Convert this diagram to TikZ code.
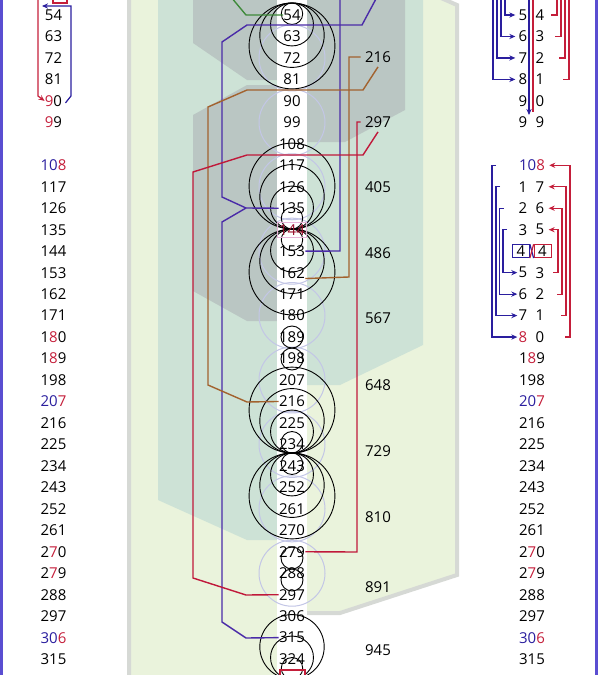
\documentclass[tikz,border=0pt]{standalone}
\usepackage{fontspec}
\setmainfont{Open Sans}
\usepackage{tikz}
\usetikzlibrary{arrows.meta,calc}
\definecolor{bandgreen}{HTML}{EAF3DC}
\definecolor{bandedge}{HTML}{D6D9D5}
\definecolor{tealbg}{HTML}{CDE2D6}
\definecolor{slatebg}{HTML}{BAC6C3}
\definecolor{framepurple}{HTML}{5A4ED1}
\definecolor{linkpurple}{HTML}{4A2BA8}
\definecolor{linkred}{HTML}{C0183A}
\definecolor{linkbrown}{HTML}{A2622E}
\definecolor{linkgreen}{HTML}{3E8A3A}
\definecolor{digred}{HTML}{C41E3A}
\definecolor{digblue}{HTML}{2A1E9E}
\definecolor{faintring}{HTML}{C3C6E6}
\definecolor{pinkline}{HTML}{E8B4D8}

\newcommand{\digR}[1]{\textcolor{digred}{#1}}
\newcommand{\digB}[1]{\textcolor{digblue}{#1}}

\tikzset{
  num/.style={font=\fontsize{7.5}{9}\selectfont, inner sep=0pt},
  ring/.style={draw=black, line width=0.45pt},
  faint/.style={draw=faintring, line width=0.5pt},
  conn/.style={line width=0.7pt},
  brack/.style={line width=0.6pt},
  tipped/.style={-{Stealth[length=3pt,width=2.6pt]}},
  digbox/.style={num, minimum width=8.5pt, minimum height=6.5pt},
}

\begin{document}
\begin{tikzpicture}[x=0.5pt, y=-0.5pt]
  \useasboundingbox (0,0) rectangle (598,675);
  \clip (0,0) rectangle (598,675);

  % background bands
  \filldraw[fill=bandgreen, draw=bandedge, line width=2pt]
    (129,-20) -- (400,-20) -- (457,5) -- (457,575) -- (340,613) -- (292,613)
    -- (292,700) -- (129,700) -- cycle;
  \fill[tealbg] (158,-20) -- (423,-20) -- (423,345) -- (340,385) -- (292,385)
    -- (292,540) -- (247,540) -- (158,500) -- cycle;
  \fill[slatebg] (193,-20) -- (292,-20) -- (292,80) -- (247,80) -- (193,43) -- cycle;
  \fill[slatebg] (193,115) -- (247,85) -- (292,85) -- (292,-20) -- (405,-20)
    -- (405,110) -- (345,142) -- (292,142) -- (292,321) -- (247,321) -- (193,291) -- cycle;
  \fill[white] (277,-20) rectangle (307,700);

  % frame
  \draw[framepurple, line width=1.5pt] (1.5,0) -- (1.5,675);
  \draw[framepurple, line width=1.5pt] (596.5,0) -- (596.5,675);

  % rings
  \foreach \k in {2,5,...,26}
    \draw[faint] (292,{15+21.47*\k}) circle (33);
  \foreach \ty/\sg/\m in {3/1/4, 229/-1/4, 229/1/4, 453/-1/4, 453/1/4, 679/-1/3} {
    \foreach \n in {1,...,\m}
      \draw[ring] (292,{\ty+\sg*\n*10.735}) circle ({\n*10.735});
  }
  \foreach \yy in {337,359,558,580}
    \draw[ring] (292,\yy) circle (11);
  \draw[brack, digred] (280,670) rectangle (305,692);

  % centre column
  \foreach \k in {0,...,30} {
    \pgfmathtruncatemacro\v{54+9*\k}
    \ifnum\k=10
      \node[num, text=linkred!80!black, draw=pinkline, inner sep=1pt] (c\k) at (292,{15+21.47*\k}) {\v};
    \else
      \node[num] (c\k) at (292,{15+21.47*\k}) {\v};
    \fi
  }

  % left column
  \foreach \k/\t in {0/54, 1/63, 2/72, 3/81, 4/{\digR{9}0}, 5/{\digR{9}9},
      7/{\digB{10}\digR{8}}, 8/117, 9/126, 10/135, 11/144, 12/153, 13/162, 14/171,
      15/{1\digR{8}0}, 16/{1\digR{8}9}, 17/198, 18/{\digB{20}\digR{7}}, 19/216,
      20/225, 21/234, 22/243, 23/252, 24/261, 25/{2\digR{7}0}, 26/{2\digR{7}9},
      27/288, 28/297, 29/{\digB{30}\digR{6}}, 30/315}
    \node[num] (l\k) at (53.5,{15+21.47*\k}) {\t};

  % right column
  \foreach \k/\p/\q in {0/5/4, 1/6/3, 2/7/2, 3/8/1, 4/9/0, 5/9/9,
      8/1/7, 9/2/6, 10/3/5, 12/5/3, 13/6/2, 14/7/1, 15/{\digR{8}}/0} {
    \node[num] (ra\k) at (523,{15+21.47*\k}) {\p};
    \node[num] (rb\k) at (540,{15+21.47*\k}) {\q};
  }
  \node[digbox, draw=digblue] (ra11) at (521,{15+21.47*11}) {4};
  \node[digbox, draw=digred] (rb11) at (542.5,{15+21.47*11}) {4};
  \foreach \k/\t in {7/{\digB{10}\digR{8}}, 16/{1\digR{8}9}, 17/198,
      18/{\digB{20}\digR{7}}, 19/216, 20/225, 21/234, 22/243, 23/252, 24/261,
      25/{2\digR{7}0}, 26/{2\digR{7}9}, 27/288, 28/297, 29/{\digB{30}\digR{6}}, 30/315}
    \node[num] (rr\k) at (532,{15+21.47*\k}) {\t};

  % sums beside the column
  \foreach \v/\yy in {216/57, 297/122, 405/187, 486/253, 567/318, 648/385,
      729/451, 810/517, 891/587, 945/650}
    \node[num] (r\v) at (378,\yy) {\v};

  % links to the centre column
  \draw[conn, linkgreen] (231,-3) -- (246,15) -- (c0.west);
  \draw[conn, linkpurple] (377,-3) -- (362,25) -- (247,25) -- (222,42) -- (222,197)
    -- (246,208) coordinate (fork) -- (c9.west);
  \draw[conn, linkpurple] (fork) -- (222,222) -- (222,622) -- (246,638) -- (c29.west);
  \draw[conn, linkpurple] (340,-3) -- (340,251) -- (c11.east);
  \draw[conn, linkbrown] ([xshift=-2pt]r216.west) -- (349,57) -- (349,277) -- (c12.south east);
  \draw[conn, linkbrown] ([yshift=-2pt]r216.south) -- (363,90) -- (247,90) -- (208,107)
    -- (208,385) -- (247,402) -- (c18.west);
  \draw[conn, linkred] ([xshift=-2pt]r297.west) -- (357,122) -- (357,552) -- (c25.east);
  \draw[conn, linkred] ([yshift=-2pt]r297.south) -- (363,155) -- (247,155) -- (193,172)
    -- (193,578) -- (246,595) -- (c27.west);

  % left column brackets
  \draw[brack, digred] (53,-12) rectangle (67,3);
  \draw[brack, digred, tipped] (38,-3) -- (38,96) -- (l4.west);
  \draw[brack, digblue, tipped] ([xshift=1.5pt, yshift=-1pt]l4.east) -- (71,96) -- (71,6) -- (42,6);

  % right column brackets, top
  \foreach \k/\xx in {0/505, 1/501, 2/497, 3/493}
    \draw[brack, digblue, tipped, shorten >=1.5pt] (\xx,-3) |- (ra\k.west);
  \draw[brack, digblue, tipped] (529,-3) -- (529,115);
  \draw[brack, digred] (533,-3) -- (533,112);
  \foreach \k/\xx in {0/557, 1/561, 2/565, 3/569}
    \draw[brack, digred] (\xx,-3) -- (\xx,{15+21.47*\k}) -- ++(-6,0);

  % right column brackets, lower
  \foreach \a/\b/\xx in {7/15/492, 8/14/496, 9/13/499.5, 10/12/503}
    \draw[brack, digblue, tipped, shorten >=0.5pt] ({\xx+4},{15+21.47*\a}) -- (\xx,{15+21.47*\a})
      -- (\xx,{15+21.47*\b}) -- (ra\b.west);
  \foreach \a/\b/\xx/\tg in {7/15/570/rr7, 8/14/566/rb8, 9/13/562/rb9, 10/12/558/rb10}
    \draw[brack, digred, tipped, shorten >=2pt] ({\xx-5},{15+21.47*\b}) -- (\xx,{15+21.47*\b})
      -- (\xx,{15+21.47*\a}) -- (\tg.east);
  \draw[brack, digblue] (ra11.north east) -- (rb11.south west);
  \draw[brack, digred] (rb11.north west) -- (ra11.south east);
\end{tikzpicture}
\end{document}
